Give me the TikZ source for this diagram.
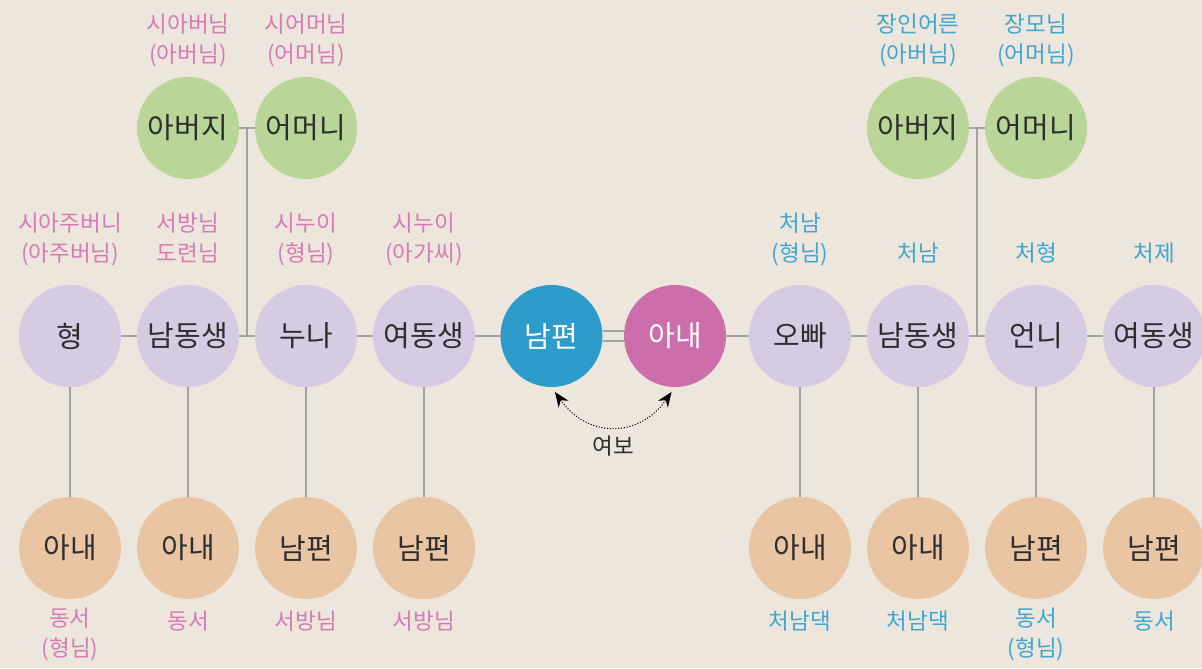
\documentclass[tikz,border=0pt]{standalone}
\usepackage{fontspec}
\setmainfont{Noto Sans CJK KR}
\usepackage{tikz}
\usetikzlibrary{arrows.meta, positioning}

\definecolor{paper}{HTML}{ECE6DC}
\definecolor{hispink}{HTML}{D67BB6}
\definecolor{herblue}{HTML}{3FA6D4}
\definecolor{eldergreen}{HTML}{B9D597}
\definecolor{kinlilac}{HTML}{D5CBE3}
\definecolor{inlawpeach}{HTML}{EAC5A4}
\definecolor{husblue}{HTML}{2E9CCA}
\definecolor{wifepink}{HTML}{CC6EAB}
\definecolor{tiegray}{HTML}{A3A3A3}
\definecolor{inkgray}{HTML}{2E2E2E}

\begin{document}
\begin{tikzpicture}[
    node distance=3.2mm,
    person/.style={circle, minimum size=2.04cm, inner sep=0pt, outer sep=0pt, text=inkgray, font=\fontsize{16.5pt}{19pt}\selectfont},
    elder/.style={person, fill=eldergreen},
    kin/.style={person, fill=kinlilac},
    inlaw/.style={person, fill=inlawpeach},
    tie/.style={draw=tiegray, line width=1.1pt},
    callname/.style={align=center, inner sep=0pt, font=\fontsize{12.8pt}{17pt}\selectfont,
      execute at begin node=\strut, execute at end node=\strut},
    hisside/.style={callname, text=hispink},
    herside/.style={callname, text=herblue},
    callarrow/.style={{Stealth[length=3mm,width=2.4mm]}-{Stealth[length=3mm,width=2.4mm]},
      densely dotted, line width=0.6pt, shorten <=1.2mm, shorten >=1.2mm}
  ]
  \fill[paper] (0,0) rectangle (24.04,13.36);
  \useasboundingbox (0,0) rectangle (24.04,13.36);

  % middle row
  \node[kin] (hyung) at (1.4,6.64) {형};
  \node[kin, right=of hyung] (nam1) {남동생};
  \node[kin, right=of nam1] (nuna) {누나};
  \node[kin, right=of nuna] (yeo1) {여동생};
  \node[person, fill=husblue, text=white, right=5.1mm of yeo1] (hus) {남편};
  \node[person, fill=wifepink, text=white, right=4.3mm of hus] (wife) {아내};
  \node[kin, right=4.6mm of wife] (oppa) {오빠};
  \node[kin, right=of oppa] (nam2) {남동생};
  \node[kin, right=of nam2] (eonni) {언니};
  \node[kin, right=of eonni] (yeo2) {여동생};

  % parents
  \node[elder, above=2.12cm of nam1] (fa1) {아버지};
  \node[elder, above=2.12cm of nuna] (mo1) {어머니};
  \node[elder, above=2.12cm of nam2] (fa2) {아버지};
  \node[elder, above=2.12cm of eonni] (mo2) {어머니};

  % spouses of siblings
  \node[inlaw, below=2.2cm of hyung] (w1) {아내};
  \node[inlaw, below=2.2cm of nam1] (w2) {아내};
  \node[inlaw, below=2.2cm of nuna] (h1) {남편};
  \node[inlaw, below=2.2cm of yeo1] (h2) {남편};
  \node[inlaw, below=2.2cm of oppa] (w3) {아내};
  \node[inlaw, below=2.2cm of nam2] (w4) {아내};
  \node[inlaw, below=2.2cm of eonni] (h3) {남편};
  \node[inlaw, below=2.2cm of yeo2] (h4) {남편};

  \draw[tie] (fa1) -- coordinate[midway] (p1) (mo1);
  \draw[tie] (p1) -- (p1 |- nam1.east);
  \draw[tie] (fa2) -- coordinate[midway] (p2) (mo2);
  \draw[tie] (p2) -- (p2 |- nam2.east);
  \foreach \a/\b in {hyung/nam1, nam1/nuna, nuna/yeo1, yeo1/hus, wife/oppa, oppa/nam2, nam2/eonni, eonni/yeo2}
    \draw[tie] (\a) -- (\b);
  \draw[tie, double=paper, double distance=4.5pt] (hus) -- (wife);
  \foreach \a/\b in {hyung/w1, nam1/w2, nuna/h1, yeo1/h2, oppa/w3, nam2/w4, eonni/h3, yeo2/h4}
    \draw[tie] (\a) -- (\b);

  \draw[callarrow] (hus.south) to[out=-55, in=-125, looseness=1.3]
    node[below=2mm, inner sep=0pt, text=inkgray, font=\fontsize{12.8pt}{15pt}\selectfont] (yeobo) {여보} (wife.south);

  % what they are called
  \node[hisside, above=1.1mm of fa1] (t1) {시아버님\\(아버님)};
  \node[hisside, above=1.1mm of mo1] (t2) {시어머님\\(어머님)};
  \node[herside, above=1.1mm of fa2] (t3) {장인어른\\(아버님)};
  \node[herside, above=1.1mm of mo2] (t4) {장모님\\(어머님)};

  \node[hisside, above=2.9mm of hyung] (t5) {시아주버니\\(아주버님)};
  \node[hisside, above=2.9mm of nam1] (t6) {서방님\\도련님};
  \node[hisside, above=2.9mm of nuna] (t7) {시누이\\(형님)};
  \node[hisside, above=2.9mm of yeo1] (t8) {시누이\\(아가씨)};
  \node[herside, above=2.9mm of oppa] (t9) {처남\\(형님)};
  \node[herside, above=2.9mm of nam2] (t10) {처남};
  \node[herside, above=2.9mm of eonni] (t11) {처형};
  \node[herside, above=2.9mm of yeo2] (t12) {처제};

  \node[hisside, below=1.8mm of w1] (t13) {동서\\(형님)};
  \node[hisside, below=1.8mm of w2] (t14) {동서};
  \node[hisside, below=1.8mm of h1] (t15) {서방님};
  \node[hisside, below=1.8mm of h2] (t16) {서방님};
  \node[herside, below=1.8mm of w3] (t17) {처남댁};
  \node[herside, below=1.8mm of w4] (t18) {처남댁};
  \node[herside, below=1.8mm of h3] (t19) {동서\\(형님)};
  \node[herside, below=1.8mm of h4] (t20) {동서};
\end{tikzpicture}
\end{document}
